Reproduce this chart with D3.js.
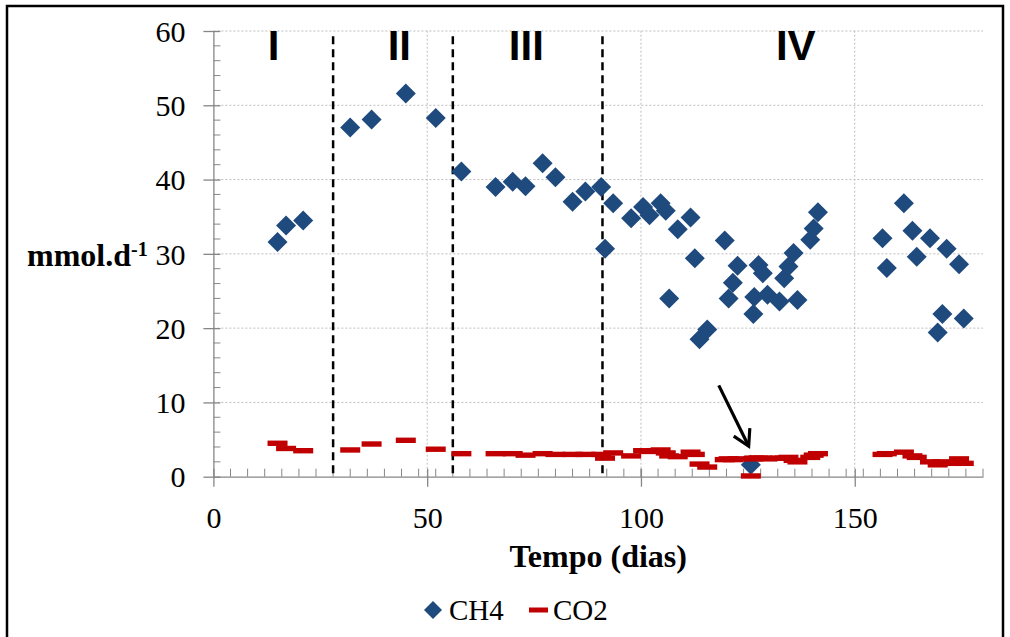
<!DOCTYPE html>
<html>
<head>
<meta charset="utf-8">
<script src="https://cdn.jsdelivr.net/npm/d3@7"></script>
<style>
  body { margin: 0; background: #fff; }
  svg { display: block; }
  .tick text { font-family: "Liberation Serif", "Times New Roman", serif; font-size: 30px; fill: #000; }
</style>
</head>
<body>
<svg width="1010" height="637"></svg>
<script>
// data
var days = [15,17,21,32,37,45,52,58,66,70,73,77,80,84,87,90.7,91.6,93.5,97.7,100.5,102,104.6,105.8,106.6,108.6,111.6,112.6,113.7,115.5,119.6,120.5,121.5,122.6,125.7,126.3,126.5,127.5,128.5,129.6,132.4,133.5,134.5,135.7,136.6,139.6,140.4,141.4,156.5,157.5,161.5,163.5,164.5,167.6,169.4,170.5,171.5,174.4,175.5];
var ch4 = [31.6,33.8,34.5,47.0,48.1,51.6,48.3,41.1,39.0,39.7,39.1,42.2,40.3,37.0,38.4,39.0,30.7,36.8,34.8,36.3,35.2,36.8,35.8,24.0,33.3,34.9,29.4,18.5,19.8,31.8,24.0,26.1,28.4,1.6,21.9,24.2,28.5,27.4,24.5,23.6,26.7,28.3,30.1,23.8,31.9,33.4,35.6,32.1,28.1,36.8,33.1,29.6,32.1,19.4,21.9,30.7,28.6,21.3];
var co2 = [4.5,3.8,3.5,3.6,4.4,4.9,3.7,3.1,3.1,3.1,2.9,3.1,3.0,3.0,3.0,3.0,2.5,3.2,2.8,3.5,3.4,3.6,3.2,2.8,2.7,3.3,3.0,1.7,1.3,2.3,2.4,2.3,2.4,0.1,2.4,2.5,2.5,2.5,2.4,2.5,2.5,2.6,2.2,2.0,2.6,2.9,3.1,3.0,3.1,3.3,2.8,2.6,2.0,1.6,2.0,1.8,2.4,1.8];

var xTicks = [0, 50, 100, 150];
var yTicks = [0, 10, 20, 30, 40, 50, 60];
var phaseBounds = [28, 56, 91];
var phaseNames = ["I", "II", "III", "IV"];
var phaseAt = [14.1, 43.5, 73.2, 136.2];
var seriesNames = ["CH4", "CO2"];

var svg = d3.select("svg");
var serif = '"Liberation Serif", "Times New Roman", serif';

// outer frame
svg.append("rect")
  .attr("x", 7).attr("y", 6).attr("width", 996).attr("height", 640)
  .attr("fill", "none").attr("stroke", "#000").attr("stroke-width", 2.5);

var x = d3.scaleLinear().domain([0, 180]).range([213.4, 983]);
var y = d3.scaleLinear().domain([0, 60]).range([476.7, 31]);

//grid lines
svg.append("g").selectAll("line")
  .data(yTicks.slice(1)).enter().append("line")
  .attr("x1", x(0)).attr("x2", x(180))
  .attr("y1", function(d) { return y(d); }).attr("y2", function(d) { return y(d); })
  .attr("stroke", "#bdbdbd").attr("stroke-dasharray", "2,2");

svg.append("g").selectAll("line")
  .data(xTicks.slice(1)).enter().append("line")
  .attr("y1", y(0)).attr("y2", y(60))
  .attr("x1", function(d) { return x(d); }).attr("x2", function(d) { return x(d); })
  .attr("stroke", "#bdbdbd").attr("stroke-dasharray", "2,2");

// minor ticks
svg.append("g").selectAll("line")
  .data(d3.range(2, 60, 2).filter(function(d) { return d % 10 != 0; })).enter().append("line")
  .attr("x1", x(0)).attr("x2", x(0) + 7)
  .attr("y1", function(d) { return y(d); }).attr("y2", function(d) { return y(d); })
  .attr("stroke", "#868686");

svg.append("g").selectAll("line")
  .data(d3.range(4, 181, 4)).enter().append("line")
  .attr("y1", y(0)).attr("y2", y(0) - 8)
  .attr("x1", function(d) { return x(d); }).attr("x2", function(d) { return x(d); })
  .attr("stroke", "#868686");

//axes
var yAxis = svg.append("g")
  .attr("transform", "translate(" + x(0) + ",0)")
  .call(d3.axisLeft(y).tickValues(yTicks).tickSizeInner(10).tickSizeOuter(0).tickPadding(18));
yAxis.selectAll(".tick line").attr("x2", -10).attr("x1", 7);

var xAxis = svg.append("g")
  .attr("transform", "translate(0," + y(0) + ")")
  .call(d3.axisBottom(x).tickValues(xTicks).tickSizeInner(10).tickSizeOuter(0).tickPadding(14));
xAxis.selectAll(".tick line").attr("y1", -8).attr("y2", 10);

svg.selectAll(".domain").attr("stroke", "#868686").attr("stroke-width", 1.3);
svg.selectAll(".tick line").attr("stroke", "#868686").attr("stroke-width", 1.3);
yAxis.selectAll(".tick text").attr("dy", "0.34em");
xAxis.selectAll(".tick text").attr("dy", "0.9em");

// phase separators
svg.append("g").selectAll("line")
  .data(phaseBounds).enter().append("line")
  .attr("x1", function(d) { return x(d); }).attr("x2", function(d) { return x(d); })
  .attr("y1", y(59.3)).attr("y2", y(0))
  .attr("stroke", "#000").attr("stroke-width", 2.5).attr("stroke-dasharray", "8,5");

svg.append("g").selectAll("text")
  .data(phaseNames).enter().append("text")
  .attr("x", function(d, i) { return x(phaseAt[i]); })
  .attr("y", 60)
  .attr("text-anchor", "middle")
  .style("font-family", '"Liberation Sans", Arial, sans-serif')
  .style("font-weight", "bold")
  .style("font-size", "42px")
  .text(function(d) { return d; });

var diamond = "M0,-10L10,0L0,10L-10,0Z";

//add data
svg.append("g").selectAll("path")
  .data(days).enter().append("path")
  .attr("d", diamond)
  .attr("fill", "#1f4a7e")
  .attr("transform", function(d, i) { return "translate(" + x(d) + "," + y(ch4[i]) + ")"; });

svg.append("g").selectAll("rect")
  .data(days).enter().append("rect")
  .attr("x", function(d) { return x(d) - 10; })
  .attr("y", function(d, i) { return y(co2[i]) - 2.7; })
  .attr("width", 20).attr("height", 5.4)
  .attr("fill", "#c00000");

// arrow
svg.append("defs").append("marker")
  .attr("id", "head").attr("viewBox", "0 0 10 10")
  .attr("refX", 8).attr("refY", 5)
  .attr("markerWidth", 7).attr("markerHeight", 7)
  .attr("orient", "auto")
  .append("path").attr("d", "M1,1L8,5L1,9")
  .attr("fill", "none").attr("stroke", "#000").attr("stroke-width", 1.4);

svg.append("line")
  .attr("x1", x(118.2)).attr("y1", y(12.3))
  .attr("x2", x(125.2)).attr("y2", y(4.1))
  .attr("stroke", "#000").attr("stroke-width", 3.2)
  .attr("marker-end", "url(#head)");

//add lables
var yt = svg.append("text")
  .attr("x", 27).attr("y", 266)
  .style("font-family", serif).style("font-weight", "bold").style("font-size", "32px");
yt.append("tspan").text("mmol.d");
yt.append("tspan").attr("dy", -10).style("font-size", "20px").text("-1");

svg.append("text")
  .attr("x", (x(0) + x(180)) / 2).attr("y", 567)
  .attr("text-anchor", "middle")
  .style("font-family", serif).style("font-weight", "bold").style("font-size", "32px")
  .text("Tempo (dias)");

// legend
var legend = svg.append("g").style("font-family", serif).style("font-size", "29px");
legend.append("path").attr("d", "M0,-9L9,0L0,9L-9,0Z").attr("fill", "#1f4a7e")
  .attr("transform", "translate(433,610)");
legend.append("text").attr("x", 449).attr("y", 620).text(seriesNames[0]);
legend.append("rect").attr("x", 529).attr("y", 607.5).attr("width", 19).attr("height", 5).attr("fill", "#c00000");
legend.append("text").attr("x", 553).attr("y", 620).text(seriesNames[1]);
</script>
</body>
</html>
